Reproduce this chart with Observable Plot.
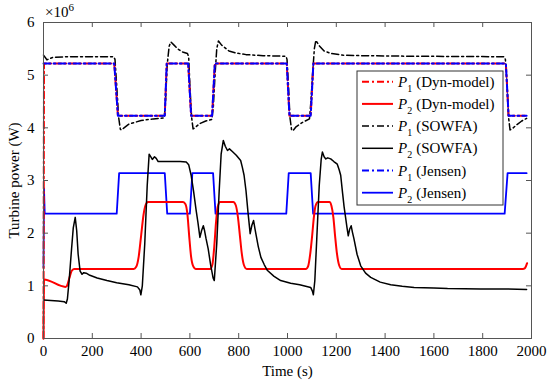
<!DOCTYPE html>
<html><head><meta charset="utf-8">
<script src="https://cdn.jsdelivr.net/npm/d3@7"></script>
<script src="https://cdn.jsdelivr.net/npm/@observablehq/plot@0.6"></script>
<style>body{margin:0;background:#fff;}</style>
</head><body><div id="chart"></div>
<script>
const xTicks = [0,200,400,600,800,1000,1200,1400,1600,1800,2000];
const yTicks = [0,1,2,3,4,5,6];
const xLabel = "Time (s)";
const yLabel = "Turbine power (W)";

// values in units of 1e6 W, [time s, power]
const p1Jensen = [[0,5.22],[290,5.22],[305,4.23],[497,4.23],[505,5.22],[593,5.22],[605,4.23],[691,4.23],[702,5.22],[997,5.22],[1008,4.23],[1095,4.23],[1106,5.22],[1895,5.22],[1906,4.23],[1980,4.23]];
const p1Dyn = [[0,0],[2,5.22],[290,5.22],[305,4.23],[497,4.23],[505,5.22],[593,5.22],[605,4.23],[691,4.23],[702,5.22],[997,5.22],[1008,4.23],[1095,4.23],[1106,5.22],[1895,5.22],[1906,4.23],[1980,4.23]];
const p2Jensen = [[0,1.35],[2,2.85],[5,2.37],[300,2.37],[310,3.14],[497,3.14],[507,2.37],[600,2.37],[610,3.14],[695,3.14],[705,2.37],[995,2.37],[1005,3.14],[1095,3.14],[1105,2.37],[1890,2.37],[1902,3.14],[1980,3.14]];
const p2Dyn = [[0,0],[2,1.12],[90,0.98],[95,0.99],[100,1.05],[108,1.18],[115,1.28],[125,1.32],[370,1.32],[380,1.36],[390,1.55],[400,1.95],[410,2.35],[418,2.53],[428,2.59],[572,2.59],[582,2.55],[590,2.35],[597,1.95],[605,1.55],[613,1.38],[625,1.32],[683,1.32],[692,1.4],[700,1.75],[707,2.2],[714,2.5],[724,2.59],[778,2.59],[788,2.53],[797,2.3],[805,1.95],[813,1.6],[821,1.4],[833,1.32],[1075,1.32],[1085,1.38],[1093,1.6],[1101,1.95],[1108,2.3],[1115,2.52],[1125,2.59],[1172,2.59],[1180,2.52],[1188,2.3],[1195,1.95],[1203,1.6],[1211,1.4],[1222,1.32],[1965,1.32],[1972,1.33],[1978,1.38],[1982,1.43]];
const p1Sowfa = [[0,5.38],[8,5.33],[14,5.29],[22,5.31],[40,5.34],[100,5.35],[288,5.35],[293,5.3],[300,4.8],[308,4.2],[315,3.97],[320,3.96],[330,4.0],[350,4.07],[400,4.14],[450,4.17],[495,4.19],[500,4.5],[507,5.2],[515,5.55],[522,5.63],[535,5.57],[550,5.5],[570,5.44],[590,5.41],[595,5.35],[600,4.8],[607,4.2],[613,3.98],[620,4.0],[640,4.08],[665,4.13],[690,4.16],[696,4.4],[703,5.0],[710,5.5],[717,5.65],[730,5.57],[760,5.46],[790,5.42],[830,5.39],[900,5.37],[994,5.36],[998,5.3],[1004,4.8],[1010,4.2],[1017,3.95],[1023,3.95],[1035,4.02],[1060,4.1],[1090,4.17],[1096,4.5],[1104,5.1],[1110,5.5],[1116,5.66],[1130,5.56],[1150,5.46],[1180,5.41],[1230,5.38],[1300,5.37],[1500,5.36],[1888,5.35],[1893,5.3],[1900,4.8],[1906,4.2],[1912,3.96],[1920,3.98],[1940,4.06],[1960,4.13],[1980,4.18]];
const p2Sowfa = [[0,0.73],[30,0.72],[60,0.71],[85,0.70],[93,0.67],[98,0.75],[105,1.1],[115,1.7],[122,2.1],[130,2.3],[136,2.05],[142,1.6],[150,1.28],[158,1.22],[165,1.25],[175,1.24],[190,1.2],[220,1.15],[260,1.1],[300,1.06],[350,1.02],[385,0.98],[395,0.92],[399,0.83],[405,1.0],[415,1.8],[425,2.9],[433,3.5],[440,3.45],[446,3.4],[455,3.45],[462,3.42],[470,3.36],[520,3.36],[560,3.36],[585,3.35],[595,3.3],[605,3.1],[615,2.8],[625,2.45],[633,2.2],[641,1.92],[648,2.05],[655,2.14],[660,2.05],[666,1.9],[675,1.7],[685,1.4],[695,1.15],[700,1.1],[710,1.8],[720,2.8],[728,3.5],[737,3.76],[745,3.65],[754,3.57],[762,3.6],[774,3.55],[790,3.48],[808,3.38],[815,3.25],[822,3.1],[830,2.8],[838,2.4],[847,1.99],[854,2.15],[861,2.24],[866,2.1],[872,1.95],[880,1.75],[891,1.54],[905,1.4],[918,1.29],[945,1.18],[972,1.1],[1013,1.05],[1050,1.02],[1095,0.97],[1102,0.9],[1106,0.83],[1112,1.1],[1120,1.9],[1130,2.9],[1138,3.4],[1143,3.54],[1150,3.45],[1157,3.41],[1165,3.43],[1177,3.41],[1190,3.36],[1204,3.31],[1212,3.2],[1218,3.1],[1226,2.75],[1232,2.5],[1238,2.3],[1244,2.1],[1249,1.95],[1255,2.08],[1261,2.14],[1266,2.02],[1272,1.9],[1285,1.6],[1300,1.38],[1320,1.24],[1341,1.16],[1380,1.07],[1423,1.02],[1470,0.99],[1519,0.97],[1600,0.96],[1656,0.95],[1793,0.94],[1900,0.94],[1980,0.93]];

const seriesNames = ["(Dyn-model)","(Dyn-model)","(SOWFA)","(SOWFA)","(Jensen)","(Jensen)"];
const seriesSubs = ["1","2","1","2","1","2"];

const styles = [
  {data:p1Dyn, stroke:"#ff0000", dash:"7,3,2,3", w:2, curve:"linear"},
  {data:p2Dyn, stroke:"#ff0000", dash:null, w:2, curve:"monotone-x"},
  {data:p1Sowfa, stroke:"#000000", dash:"7,3,2,3", w:1.5, curve:"linear"},
  {data:p2Sowfa, stroke:"#000000", dash:null, w:1.5, curve:"linear"},
  {data:p1Jensen, stroke:"#0000ff", dash:"7,3,2,3", w:2, curve:"linear"},
  {data:p2Jensen, stroke:"#0000ff", dash:null, w:1.8, curve:"linear"}
];
const order = [5,1,3,2,0,4];

const W = 550, H = 385, mL = 43, mR = 19, mT = 22, mB = 47;
const fw = W - mL - mR, fh = H - mT - mB;

const lineMarks = order.map(i => Plot.line(styles[i].data, {
  x: d => d[0], y: d => d[1], stroke: styles[i].stroke, strokeWidth: styles[i].w,
  strokeDasharray: styles[i].dash, curve: styles[i].curve
}));

const fmt = d => String(d);
const chart = Plot.plot({
  width: W, height: H, marginLeft: mL, marginRight: mR, marginTop: mT, marginBottom: mB,
  style: {fontFamily: "'Liberation Serif', 'Times New Roman', serif", fontSize: "15px", background: "#fff", color: "#000"},
  x: {domain: [0, 2000]},
  y: {domain: [0, 6]},
  marks: [
    ...lineMarks,
    Plot.ruleX(xTicks, {x: d => d, insetTop: fh - 5, stroke: "#555"}),
    Plot.ruleX(xTicks, {x: d => d, insetBottom: fh - 5, stroke: "#555"}),
    Plot.ruleY(yTicks, {y: d => d, insetRight: fw - 5, stroke: "#555"}),
    Plot.ruleY(yTicks, {y: d => d, insetLeft: fw - 5, stroke: "#555"}),
    Plot.frame({stroke: "#555", strokeWidth: 1}),
    Plot.axisX(xTicks, {tickSize: 0, tickPadding: 7, tickFormat: fmt, fontSize: 15, label: xLabel, labelAnchor: "center", labelOffset: 37, labelArrow: "none"}),
    Plot.axisY(yTicks, {tickSize: 0, tickPadding: 9, tickFormat: fmt, fontSize: 15, label: yLabel, labelAnchor: "center", labelOffset: 35, labelArrow: "none"})
  ]
});
document.getElementById("chart").appendChild(chart);

const svg = d3.select(chart);
const ff = "'Liberation Serif', 'Times New Roman', serif";
// exponent label
const ex = svg.append("text").attr("x", mL + 2).attr("y", 17).attr("text-anchor", "start").attr("font-family", ff).attr("font-size", 15).attr("fill", "#000");
ex.append("tspan").text("\u00d710");
ex.append("tspan").attr("font-size", 11).attr("dy", -6).text("6");

// legend
const lx = 357, ly = 71, lw = 146, lh = 134, rowH = 22.2, row0 = 81.7;
const lg = svg.append("g");
lg.append("rect").attr("x", lx).attr("y", ly).attr("width", lw).attr("height", lh).attr("fill", "#fff").attr("stroke", "#333").attr("stroke-width", 1);
styles.forEach((s, i) => {
  const y = row0 + i * rowH;
  lg.append("line").attr("x1", 362).attr("x2", 393).attr("y1", y).attr("y2", y)
    .attr("stroke", s.stroke).attr("stroke-width", s.w).attr("stroke-dasharray", s.dash);
  const t = lg.append("text").attr("x", 398).attr("y", y + 5).attr("text-anchor", "start").attr("font-family", ff).attr("font-size", 15).attr("fill", "#000");
  t.append("tspan").attr("font-style", "italic").text("P");
  t.append("tspan").attr("font-size", 10).attr("dy", 5).text(seriesSubs[i]);
  t.append("tspan").attr("dy", -5).attr("dx", 4).text(seriesNames[i]);
});
</script></body></html>
